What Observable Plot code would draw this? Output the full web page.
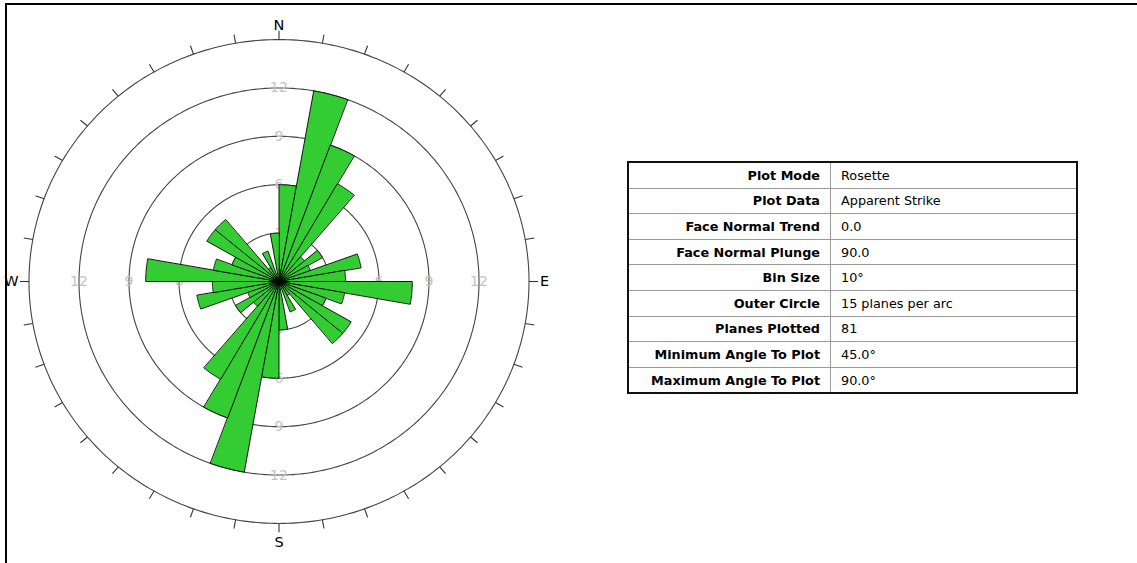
<!DOCTYPE html>
<html>
<head>
<meta charset="utf-8">
<script src="https://cdn.jsdelivr.net/npm/d3@7"></script>
<script src="https://cdn.jsdelivr.net/npm/@observablehq/plot@0.6"></script>
<style>
  html, body { margin: 0; padding: 0; background: #fff; }
  #wrap { position: relative; width: 1137px; height: 563px; overflow: hidden; background: #fff; }
  #chart { position: absolute; left: 0; top: 0; }
  #frame { position: absolute; left: 5px; top: 3px; width: 1140px; height: 570px;
           border-top: 2px solid #000; border-left: 2px solid #000; pointer-events: none; }
  #info { position: absolute; left: 627px; top: 161px; width: 451px; height: 232px;
          border-collapse: collapse; border: 2px solid #111;
          font-family: "DejaVu Sans", Verdana, sans-serif; font-size: 12.8px; color: #000; }
  #info td { border: 1px solid #9a9a9a; padding: 0 10px; height: 24.6px; white-space: nowrap; }
  #info td.k { text-align: right; font-weight: bold; width: 181px; }
  #info td.v { text-align: left; }
</style>
</head>
<body>
<div id="wrap">
  <div id="chart"></div>
  <table id="info"></table>
  <div id="frame"></div>
</div>
<script>
// ---- data ----
const binStarts = d3.range(0, 360, 10);            // bin start azimuths (deg)
const binCounts = [6, 12, 9, 7, 2, 3, 2, 5, 4,      // 0..80
                   8, 4, 3, 5, 5, 1, 2, 0, 3,       // 90..170
                   6, 12, 9, 7, 2, 3, 2, 5, 4,      // 180..260
                   8, 4, 3, 5, 5, 1, 2, 0, 3];      // 270..350
const binSize = 10;
const ringValues = [3, 6, 9, 12];
const outerCircle = 15;
const ringLabelDirs = [0, 90, 180, 270];
const compass = [{t: "N", a: 0}, {t: "E", a: 90}, {t: "S", a: 180}, {t: "W", a: 270}];
const tableKeys = ["Plot Mode", "Plot Data", "Face Normal Trend", "Face Normal Plunge", "Bin Size",
                   "Outer Circle", "Planes Plotted", "Minimum Angle To Plot", "Maximum Angle To Plot"];
const tableVals = ["Rosette", "Apparent Strike", "0.0", "90.0", "10°",
                   "15 planes per arc", "81", "45.0°", "90.0°"];

// ---- geometry helpers (data units) ----
const rad = d => d * Math.PI / 180;
const px = (r, a) => r * Math.sin(rad(a));
const py = (r, a) => r * Math.cos(rad(a));

const petals = [];
binStarts.forEach((a0, i) => {
  const c = binCounts[i];
  if (!c) return;
  petals.push({bin: i, x: 0, y: 0});
  for (let a = a0; a <= a0 + binSize + 1e-9; a += 0.5) petals.push({bin: i, x: px(c, a), y: py(c, a)});
});

const circlePts = [];
[...ringValues, outerCircle].forEach(r => {
  for (let a = 0; a <= 360; a += 1) circlePts.push({r, x: px(r, a), y: py(r, a)});
});

const ticks = d3.range(0, 360, 10).map(a => ({
  x1: px(outerCircle, a), y1: py(outerCircle, a),
  x2: px(outerCircle + 0.55, a), y2: py(outerCircle + 0.55, a)
}));

const ringLabels = [];
ringLabelDirs.forEach(a => ringValues.forEach(r => ringLabels.push({t: String(r), x: px(r, a), y: py(r, a)})));

const compassR = {N: 15.85, E: 15.93, S: 16.2, W: 16.05};
const compassLabels = compass.map(d => ({t: d.t, x: px(compassR[d.t], d.a), y: py(compassR[d.t], d.a)}));

// ---- scales: center at (278.5, 281), 16.67 px/unit horizontally, 16.13 px/unit vertically ----
const W = 560, H = 563, cx = 278.5, cy = 281, kx = 16.667, ky = 16.13;

const plot = Plot.plot({
  width: W, height: H,
  margin: 0,
  x: {domain: [-cx / kx, (W - cx) / kx], axis: null},
  y: {domain: [-(H - cy) / ky, cy / ky], axis: null},
  style: {fontFamily: "DejaVu Sans, Verdana, sans-serif", background: "transparent", overflow: "visible"},
  marks: [
    Plot.line(circlePts, {x: "x", y: "y", z: "r", stroke: "#444", strokeWidth: 1.1}),
    Plot.link(ticks, {x1: "x1", y1: "y1", x2: "x2", y2: "y2", stroke: "#333", strokeWidth: 1.1}),
    Plot.text(ringLabels, {x: "x", y: "y", text: "t", fill: "#c4c4c4", fontSize: 14}),
    Plot.line(petals, {x: "x", y: "y", z: "bin", curve: "linear-closed",
                       fill: "#33cc33", stroke: "#000", strokeWidth: 0.9, strokeLinejoin: "miter"}),
    Plot.text(compassLabels, {x: "x", y: "y", text: "t", fill: "#000", fontSize: 14.5})
  ]
});
document.getElementById("chart").appendChild(plot);

// ---- info table ----
const tbl = document.getElementById("info");
tableKeys.forEach((k, i) => {
  const tr = document.createElement("tr");
  const a = document.createElement("td"); a.className = "k"; a.textContent = k;
  const b = document.createElement("td"); b.className = "v"; b.textContent = tableVals[i];
  tr.appendChild(a); tr.appendChild(b); tbl.appendChild(tr);
});
</script>
</body>
</html>
